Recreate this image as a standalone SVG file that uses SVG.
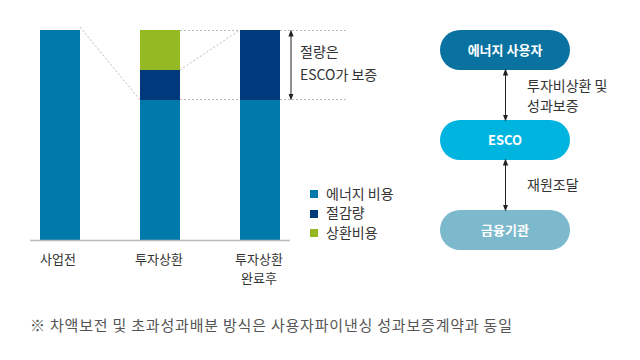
<svg xmlns="http://www.w3.org/2000/svg" width="640" height="360" viewBox="0 0 640 360">
<style>
text{font-family:"Noto Sans CJK KR","Noto Sans",sans-serif;fill:#333;}
.lbl{font-size:13px;}
.side{font-size:14px;}
.pill{font-size:13px;font-weight:bold;fill:#fff;text-anchor:middle;}
.dash{stroke:#bbb;stroke-width:1;stroke-dasharray:2,2;fill:none;}
.conn{stroke:#222;stroke-width:1;fill:none;}
</style>
<defs>
<marker id="ah" viewBox="0 0 8 8" refX="4" refY="4" markerWidth="7" markerHeight="7" orient="auto-start-reverse">
<path d="M0,1 L8,4 L0,7 z" fill="#222"/>
</marker>
</defs>
<rect width="640" height="360" fill="#fff"/>
<g id="chart">
<rect x="40" y="30" width="40" height="210" fill="#0079ab"/>
<rect x="140" y="30" width="40" height="40" fill="#95b923"/>
<rect x="140" y="70" width="40" height="30" fill="#003a7d"/>
<rect x="140" y="100" width="40" height="140" fill="#0079ab"/>
<rect x="240" y="30" width="40" height="70" fill="#003a7d"/>
<rect x="240" y="100" width="40" height="140" fill="#0079ab"/>
<line x1="30" y1="240.5" x2="290" y2="240.5" stroke="#bbb" stroke-width="1.5"/>
<path class="dash" d="M80,27 L140,100 M180,70 L240,30 M180,30.5 H240 M280,30.5 H348 M180,99.5 H240 M280,99.5 H348"/>
<line class="conn" x1="291" y1="33" x2="291" y2="97" marker-start="url(#ah)" marker-end="url(#ah)"/>
<text class="side" x="300" y="57" font-size="14.5">절량은</text>
<text class="side" x="300" y="80" font-size="14.5">ESCO가 보증</text>
<text class="lbl" x="58" y="264" text-anchor="middle" font-size="13.5">사업전</text>
<text class="lbl" x="159" y="264" text-anchor="middle" font-size="13.5">투자상환</text>
<text class="lbl" x="259" y="264" text-anchor="middle" font-size="13.5">투자상환</text>
<text class="lbl" x="259" y="283" text-anchor="middle" font-size="13.5">완료후</text>
</g>
<g id="legend">
<rect x="310" y="190" width="8" height="8" fill="#0079ab"/>
<text class="side" x="326" y="199">에너지 비용</text>
<rect x="310" y="210" width="8" height="8" fill="#003a7d"/>
<text class="side" x="326" y="218">절감량</text>
<rect x="310" y="229" width="8" height="8" fill="#95b923"/>
<text class="side" x="326" y="238">상환비용</text>
</g>
<g id="n1">
<rect x="440" y="30" width="130" height="40" rx="20" fill="#0a72a0"/>
<text class="pill" x="505" y="55">에너지 사용자</text>
</g>
<g id="n2">
<rect x="440" y="120" width="130" height="40" rx="20" fill="#00b4e0"/>
<text class="pill" x="505" y="145" font-family="Roboto,sans-serif">ESCO</text>
</g>
<g id="n3">
<rect x="440" y="210" width="130" height="40" rx="20" fill="#7cb9cc"/>
<text class="pill" x="505" y="235">금융기관</text>
</g>
<g id="connectors">
<line class="conn" x1="505.5" y1="72" x2="505.5" y2="118" marker-start="url(#ah)" marker-end="url(#ah)"/>
<line class="conn" x1="505.5" y1="162" x2="505.5" y2="208" marker-start="url(#ah)" marker-end="url(#ah)"/>
<text class="side" x="527" y="91">투자비상환 및</text>
<text class="side" x="527" y="111">성과보증</text>
<text class="side" x="527" y="190">재원조달</text>
</g>
<text x="30" y="331" font-size="15" textLength="482" lengthAdjust="spacing" style="fill:#555">※ 차액보전 및 초과성과배분 방식은 사용자파이낸싱 성과보증계약과 동일</text>
</svg>
